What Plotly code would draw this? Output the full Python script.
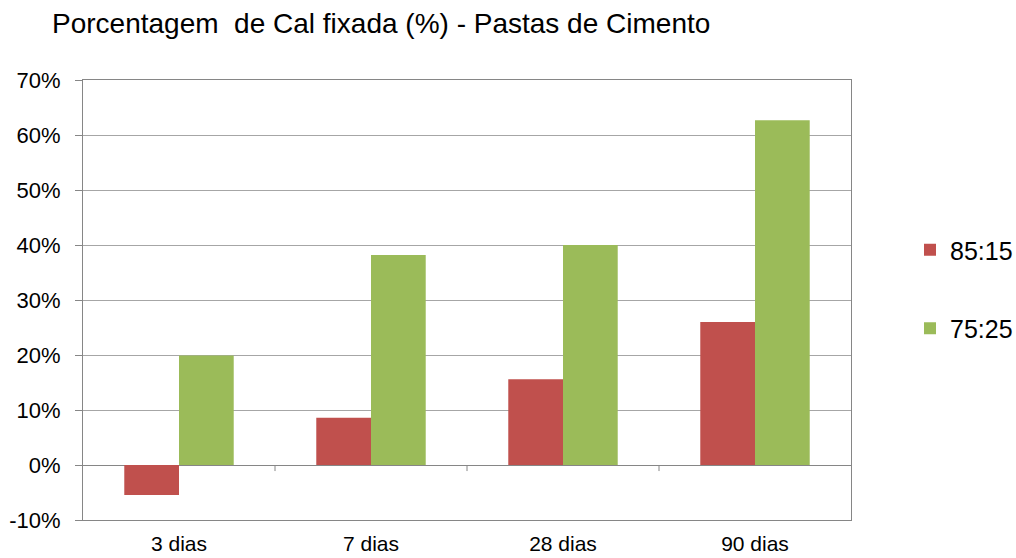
import plotly.graph_objects as go

categories = ["3 dias", "7 dias", "28 dias", "90 dias"]
series_names = ["85:15", "75:25"]
values_85_15 = [-0.0545, 0.086, 0.156, 0.26]
values_75_25 = [0.199, 0.382, 0.40, 0.627]
colors = ["#C0504D", "#9BBB59"]
y_ticks = [-0.1, 0.0, 0.1, 0.2, 0.3, 0.4, 0.5, 0.6, 0.7]
y_tick_labels = ["-10%", "0%", "10%", "20%", "30%", "40%", "50%", "60%", "70%"]

FONT = "Liberation Sans, Arial, sans-serif"
GRID = "#A6A6A6"
AXIS = "#868686"

fig = go.Figure()
for i, (name, vals) in enumerate(zip(series_names, [values_85_15, values_75_25])):
    fig.add_trace(go.Bar(
        x=categories, y=vals, name=name,
        marker=dict(color=colors[i], line=dict(width=0)),
        legendgroup=name,
    ))

# category boundary ticks on the zero line
for b in [0.5, 1.5, 2.5]:
    fig.add_shape(type="line", xref="x", yref="y", x0=b, x1=b,
                  y0=0, y1=-0.011, line=dict(color=AXIS, width=1))

fig.update_layout(
    width=1016, height=558,
    paper_bgcolor="white", plot_bgcolor="white",
    margin=dict(l=83, r=165, t=80, b=38),
    barmode="group", bargap=0.43, bargroupgap=0,
    title=dict(text="Porcentagem  de Cal fixada (%) - Pastas de Cimento",
               x=52 / 1016, xanchor="left", y=1 - 23 / 558, yanchor="middle",
               font=dict(family=FONT, size=28, color="black")),
    font=dict(family=FONT, color="black"),
    legend=dict(xref="container", yref="container",
                x=910 / 1016, xanchor="left", y=1 - 289 / 558, yanchor="middle",
                font=dict(family=FONT, size=25, color="black"),
                tracegroupgap=43, traceorder="grouped",
                bgcolor="rgba(0,0,0,0)"),
    showlegend=True,
)
fig.update_xaxes(
    range=[-0.5, 3.5], showgrid=False, automargin=False,
    showline=True, linecolor=AXIS, linewidth=1, mirror=True,
    ticks="", ticklabelstandoff=5,
    tickfont=dict(family=FONT, size=21, color="black"),
)
fig.update_yaxes(
    range=[-0.1, 0.7], tickvals=y_ticks, ticktext=y_tick_labels,
    automargin=False,
    showgrid=True, gridcolor=GRID, gridwidth=1,
    zeroline=True, zerolinecolor=AXIS, zerolinewidth=1,
    showline=True, linecolor=AXIS, linewidth=1, mirror=True,
    ticks="outside", ticklen=7, tickcolor=AXIS, ticklabelstandoff=10,
    tickfont=dict(family=FONT, size=22, color="black"),
)

fig.write_html("out.html")
